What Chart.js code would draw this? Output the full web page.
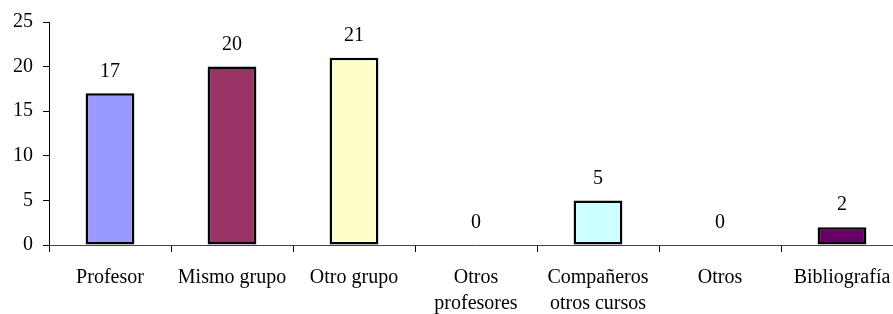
<!DOCTYPE html>
<html>
<head>
<meta charset="utf-8">
<script src="https://cdn.jsdelivr.net/npm/chart.js@4"></script>
<style>
    html, body { margin: 0; padding: 0; background: #fff; overflow: hidden; }
    #wrap { width: 910px; height: 314px; }
</style>
</head>
<body>
<div id="wrap"><canvas id="chart" width="910" height="314"></canvas></div>
<script>
// datos del gráfico
const categories = ['Profesor', 'Mismo grupo', 'Otro grupo', ['Otros', 'profesores'], ['Compañeros', 'otros cursos'], 'Otros', 'Bibliografía'];
const values = [17, 20, 21, 0, 5, 0, 2];
const barColors = ['#9999FF', '#993366', '#FFFFCC', '#FFFFFF', '#CCFFFF', '#FFFFFF', '#660066'];
const yTicks = [0, 5, 10, 15, 20, 25];

const fontFamily = '"Liberation Serif", "Times New Roman", serif';

// etiquetas de valor encima de cada barra
const valueLabels = {
    id: 'valueLabels',
    afterDatasetsDraw(chart) {
        const ctx = chart.ctx;
        const meta = chart.getDatasetMeta(0);
        ctx.save();
        ctx.font = '20px ' + fontFamily;
        ctx.fillStyle = '#000';
        ctx.textAlign = 'center';
        ctx.textBaseline = 'middle';
        meta.data.forEach((bar, i) => {
            ctx.fillText(String(values[i]), bar.x, bar.y - 22);
        });
        ctx.restore();
    }
};

new Chart(document.getElementById('chart'), {
    type: 'bar',
    data: {
        labels: categories,
        datasets: [{
            data: values,
            backgroundColor: barColors,
            borderColor: '#000',
            borderWidth: (c) => values[c.dataIndex] === 0 ? 0 : 2.5,
            borderSkipped: false,
            categoryPercentage: 1,
            barPercentage: 0.4
        }]
    },
    options: {
        responsive: false,
        animation: false,
        layout: {padding: {top: 20, right: 7, left: 0, bottom: 0}},
        plugins: {
            legend: {display: false},
            tooltip: {enabled: false}
        },
        scales: {
            x: {
                offset: true,
                grid: {
                    offset: true,
                    drawOnChartArea: false,
                    drawTicks: true,
                    tickLength: 7,
                    color: '#000'
                },
                border: {display: true, color: '#444', width: 1},
                ticks: {
                    color: '#000',
                    padding: 13,
                    maxRotation: 0,
                    autoSkip: false,
                    font: {family: fontFamily, size: 20, lineHeight: 1.3}
                },
                afterFit(scale) {
                    scale.height = 69;
                }
            },
            y: {
                min: 0,
                max: 25,
                afterBuildTicks(scale) {
                    scale.ticks = yTicks.map(v => ({value: v}));
                },
                grid: {
                    drawOnChartArea: false,
                    drawTicks: true,
                    tickLength: 6,
                    color: '#000'
                },
                border: {display: true, color: '#000', width: 1},
                ticks: {
                    color: '#000',
                    padding: 10,
                    font: {family: fontFamily, size: 20}
                },
                afterFit(scale) {
                    scale.width = 49;
                }
            }
        }
    },
    plugins: [valueLabels]
});
</script>
</body>
</html>
